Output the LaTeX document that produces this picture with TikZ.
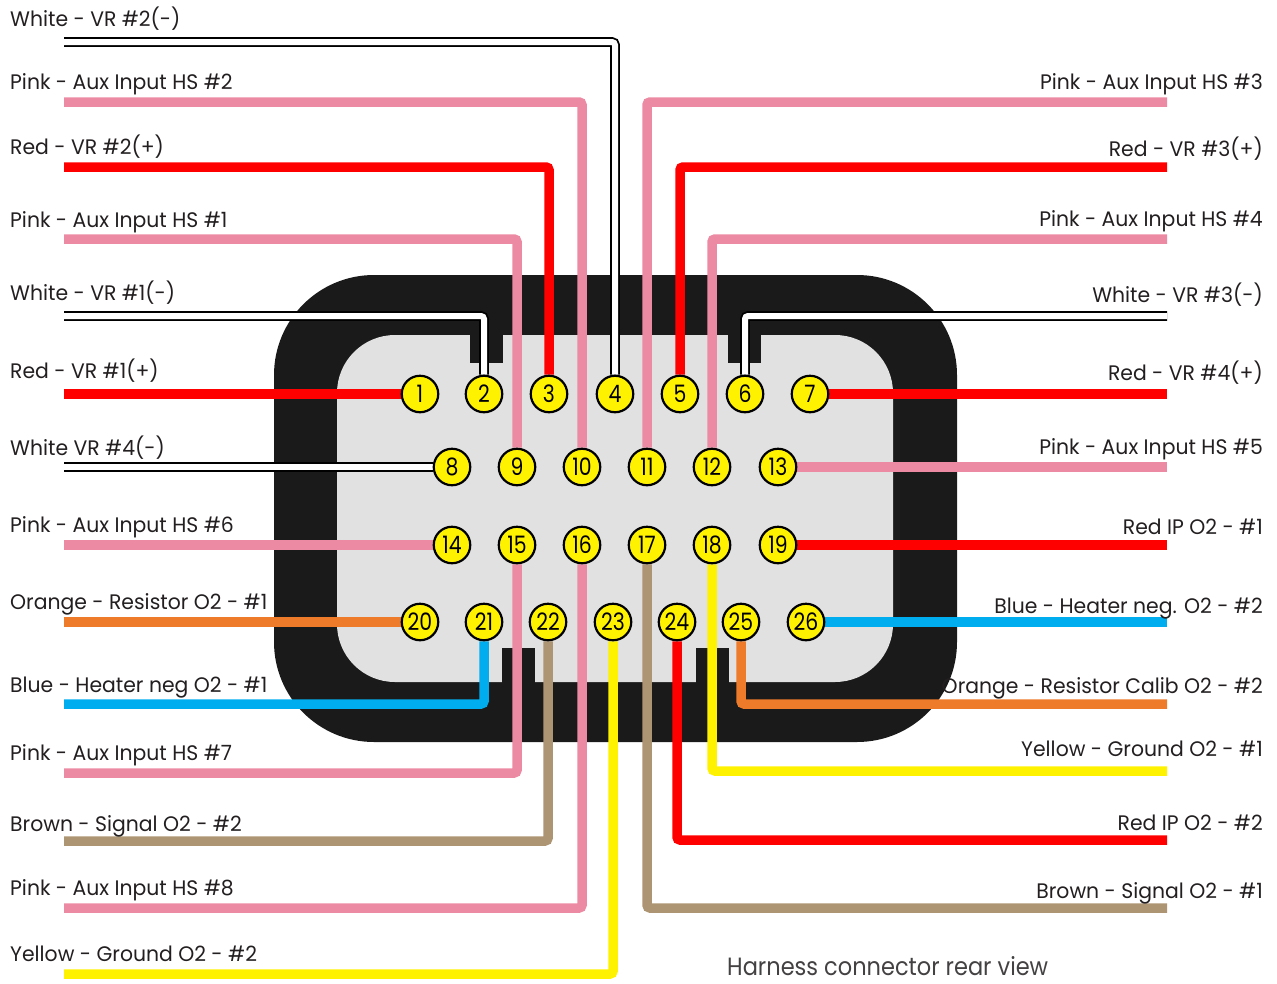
\documentclass[tikz,border=0pt]{standalone}
\usepackage{fontspec}
\setmainfont{Poppins}[FakeStretch=0.97]
\newfontfamily\pinfont{Poppins}[FakeStretch=0.85]
\newfontfamily\capfont{Poppins}[FakeStretch=0.9]
\usetikzlibrary{backgrounds}
\definecolor{wpink}{RGB}{236,138,163}
\definecolor{wred}{RGB}{255,0,0}
\definecolor{worange}{RGB}{238,123,42}
\definecolor{wblue}{RGB}{0,174,239}
\definecolor{wbrown}{RGB}{173,148,114}
\definecolor{wyellow}{RGB}{255,242,0}
\definecolor{bodyblack}{RGB}{26,26,26}
\definecolor{innergray}{RGB}{225,225,225}
\definecolor{textgray}{RGB}{35,31,32}
\tikzset{
	wire/.style={line width=9.5pt, rounded corners=3pt},
	pinkw/.style={wire, draw=wpink},
	redw/.style={wire, draw=wred},
	orangew/.style={wire, draw=worange},
	bluew/.style={wire, draw=wblue},
	brownw/.style={wire, draw=wbrown},
	yelloww/.style={wire, draw=wyellow},
	whitew/.style={draw=black, line width=1.8pt, double=white, double distance=6pt, rounded corners=3pt},
	pin/.style={circle, draw=black, line width=2.2pt, fill=wyellow, minimum size=36.5pt, inner sep=0pt, font=\pinfont\fontsize{24}{24}\selectfont},
	lbl/.style={text=textgray, inner sep=0pt, font=\fontsize{21}{24}\selectfont},
}
\begin{document}
\begin{tikzpicture}[x=1pt,y=-1pt]
	\useasboundingbox (0,0) rectangle (1277,983);
	\foreach \n/\x in {1/420,2/484,3/549,4/615,5/680,6/745,7/810}
	\node[pin] (p\n) at (\x,394) {\n};
	\foreach \n/\x in {8/452,9/517,10/582,11/647,12/712,13/778}
	\node[pin] (p\n) at (\x,467) {\n};
	\foreach \n/\x in {14/452,15/517,16/582,17/647,18/712,19/778}
	\node[pin] (p\n) at (\x,545) {\n};
	\foreach \n/\x in {20/420,21/484,22/548,23/613,24/677,25/741,26/806}
	\node[pin] (p\n) at (\x,622) {\n};
	\foreach \n/\y in {1/42,2/102,3/167,4/239,5/316,6/394,7/467,8/545,9/622,10/704,11/773,12/841,13/908,14/974}
	\coordinate (a\n) at (64,\y);
	\foreach \n/\y in {1/102,2/167,3/239,4/316,5/394,6/467,7/545,8/622,9/704,10/771,11/840,12/908}
	\coordinate (b\n) at (1167,\y);
	\begin{scope}[on background layer]
		\fill[bodyblack, rounded corners=100pt] (274,275) rectangle (957,742);
		\fill[innergray, rounded corners=58pt] (337,335) rectangle (893,682);
		\foreach \x in {470,728}
		\fill[bodyblack] (\x,334) rectangle ++(33,29);
		\foreach \x in {502,696}
		\fill[bodyblack] (\x,648) rectangle ++(33,35);
		\draw[whitew] (a1) -| (p4);
		\draw[pinkw] (a2) -| (p10);
		\draw[redw] (a3) -| (p3);
		\draw[pinkw] (a4) -| (p9);
		\draw[whitew] (a5) -| (p2);
		\draw[redw] (a6) -- (p1);
		\draw[whitew] (a7) -- (p8);
		\draw[pinkw] (a8) -- (p14);
		\draw[orangew] (a9) -- (p20);
		\draw[bluew] (p21) |- (a10);
		\draw[pinkw] (p15) |- (a11);
		\draw[brownw] (p22) |- (a12);
		\draw[pinkw] (p16) |- (a13);
		\draw[yelloww] (p23) |- (a14);
		\draw[pinkw] (b1) -| (p11);
		\draw[redw] (b2) -| (p5);
		\draw[pinkw] (b3) -| (p12);
		\draw[whitew] (b4) -| (p6);
		\draw[redw] (b5) -- (p7);
		\draw[pinkw] (b6) -- (p13);
		\draw[redw] (b7) -- (p19);
		\draw[bluew] (b8) -- (p26);
		\draw[orangew] (p25) |- (b9);
		\draw[yelloww] (p18) |- (b10);
		\draw[redw] (p24) |- (b11);
		\draw[brownw] (p17) |- (b12);
	\end{scope}
	\foreach \n/\y/\t in {1/26/White - VR \#2(-), 2/89/Pink - Aux Input HS \#2, 3/154/Red - VR \#2(+), 4/227/Pink - Aux Input HS \#1, 5/300/White - VR \#1(-), 6/378/Red - VR \#1(+), 7/455/White VR \#4(-), 8/532/Pink - Aux Input HS \#6, 9/609/Orange - Resistor O2 - \#1, 10/692/Blue - Heater neg O2 - \#1, 11/760/Pink - Aux Input HS \#7, 12/831/Brown - Signal O2 - \#2, 13/895/Pink - Aux Input HS \#8, 14/961/Yellow - Ground O2 - \#2}
	\node[lbl, anchor=base west] (la\n) at (10,\y) {\t};
	\foreach \n/\y/\t in {1/89/Pink - Aux Input HS \#3, 2/156/Red - VR \#3(+), 3/226/Pink - Aux Input HS \#4, 4/302/White - VR \#3(-), 5/380/Red - VR \#4(+), 6/454/Pink - Aux Input HS \#5, 7/534/Red IP O2 - \#1, 8/613/Blue - Heater neg. O2 - \#2, 9/693/Orange - Resistor Calib O2 - \#2, 10/756/Yellow - Ground O2 - \#1, 11/830/Red IP O2 - \#2, 12/898/Brown - Signal O2 - \#1}
	\node[lbl, anchor=base east] (lb\n) at (1263,\y) {\t};
	\node[lbl, text=textgray!85, anchor=base west, font=\capfont\fontsize{25}{28}\selectfont] (cap) at (727,975) {Harness connector rear view};
\end{tikzpicture}
\end{document}
